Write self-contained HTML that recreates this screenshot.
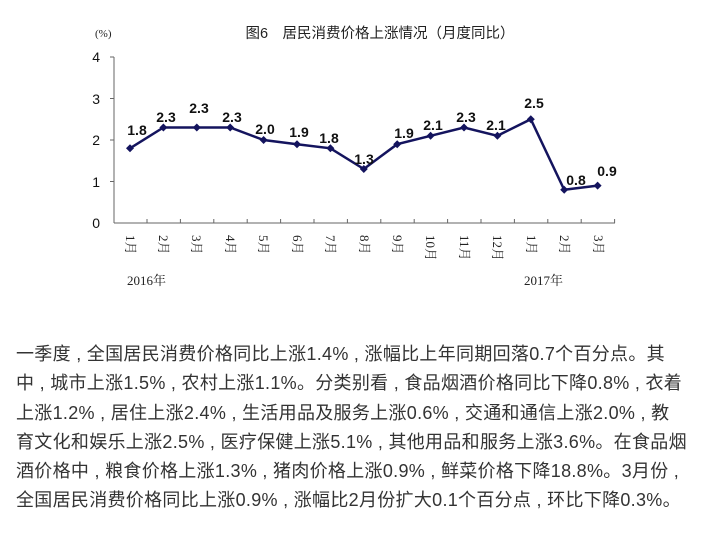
<!DOCTYPE html>
<html><head><meta charset="utf-8"><style>
body{margin:0;width:704px;height:539px;background:#fff;overflow:hidden}
.t{position:absolute;left:16px;top:340px;font-family:"Liberation Sans","Noto Sans CJK SC",sans-serif;font-size:18px;line-height:29.3px;color:#333;white-space:nowrap;letter-spacing:0.3px}
</style></head><body>
<svg width="704" height="330" style="position:absolute;left:0;top:0" font-family="Liberation Sans, Noto Sans CJK SC, sans-serif">
<text x="380" y="38" font-size="14.5" text-anchor="middle" fill="#222">图6　居民消费价格上涨情况（月度同比）</text>
<text x="95" y="37" font-size="11" fill="#222" font-family="Liberation Serif, Noto Serif CJK SC, serif">(%)</text>
<g font-size="14" fill="#111" text-anchor="end">
<text x="100" y="62">4</text><text x="100" y="104">3</text><text x="100" y="145">2</text><text x="100" y="187">1</text><text x="100" y="228">0</text>
</g>
<g stroke="#666" stroke-width="1" fill="none">
<line x1="114" y1="57" x2="114" y2="223"/>
<line x1="114" y1="223" x2="615" y2="223"/>
<line x1="110" y1="57" x2="114" y2="57"/><line x1="110" y1="98.5" x2="114" y2="98.5"/><line x1="110" y1="140" x2="114" y2="140"/><line x1="110" y1="181.5" x2="114" y2="181.5"/>
<path d="M147 223v-4M180.4 223v-4M213.8 223v-4M247.2 223v-4M280.6 223v-4M314 223v-4M347.4 223v-4M380.8 223v-4M414.2 223v-4M447.6 223v-4M481 223v-4M514.4 223v-4M547.8 223v-4M581.2 223v-4M614.6 223v-4"/>
</g>
<polyline fill="none" stroke="#14145e" stroke-width="2.5" points="130,148.3 163.4,127.5 196.8,127.5 230.2,127.5 263.6,140 297,144.2 330.4,148.3 363.8,169 397.2,144.2 430.6,135.8 464,127.5 497.4,135.8 530.8,119.2 564.2,189.8 597.6,185.6"/>
<g fill="#14145e">
<path d="M130 144.3l4 4-4 4-4-4zM163.4 123.5l4 4-4 4-4-4zM196.8 123.5l4 4-4 4-4-4zM230.2 123.5l4 4-4 4-4-4zM263.6 136l4 4-4 4-4-4zM297 140.2l4 4-4 4-4-4zM330.4 144.3l4 4-4 4-4-4zM363.8 165l4 4-4 4-4-4zM397.2 140.2l4 4-4 4-4-4zM430.6 131.8l4 4-4 4-4-4zM464 123.5l4 4-4 4-4-4zM497.4 131.8l4 4-4 4-4-4zM530.8 115.2l4 4-4 4-4-4zM564.2 185.8l4 4-4 4-4-4zM597.6 181.6l4 4-4 4-4-4z"/>
</g>
<g font-size="14" font-weight="bold" fill="#111" text-anchor="middle">
<text x="137" y="135">1.8</text><text x="166" y="122">2.3</text><text x="199" y="113">2.3</text><text x="232" y="122">2.3</text><text x="265" y="134">2.0</text><text x="299" y="137">1.9</text><text x="329" y="143">1.8</text><text x="364" y="164">1.3</text><text x="404" y="138">1.9</text><text x="433" y="130">2.1</text><text x="466" y="122">2.3</text><text x="496" y="130">2.1</text><text x="534" y="108">2.5</text><text x="576" y="185">0.8</text><text x="607" y="176">0.9</text>
</g>
<g font-size="13" fill="#222" font-family="Liberation Serif, Noto Serif CJK SC, serif">
<g transform="translate(126,235) rotate(90)"><text>1月</text></g>
<g transform="translate(159,235) rotate(90)"><text>2月</text></g>
<g transform="translate(192,235) rotate(90)"><text>3月</text></g>
<g transform="translate(226,235) rotate(90)"><text>4月</text></g>
<g transform="translate(259,235) rotate(90)"><text>5月</text></g>
<g transform="translate(293,235) rotate(90)"><text>6月</text></g>
<g transform="translate(326,235) rotate(90)"><text>7月</text></g>
<g transform="translate(360,235) rotate(90)"><text>8月</text></g>
<g transform="translate(393,235) rotate(90)"><text>9月</text></g>
<g transform="translate(426,235) rotate(90)"><text>10月</text></g>
<g transform="translate(460,235) rotate(90)"><text>11月</text></g>
<g transform="translate(493,235) rotate(90)"><text>12月</text></g>
<g transform="translate(527,235) rotate(90)"><text>1月</text></g>
<g transform="translate(560,235) rotate(90)"><text>2月</text></g>
<g transform="translate(594,235) rotate(90)"><text>3月</text></g>
<text x="127" y="285" font-size="13">2016年</text>
<text x="524" y="285" font-size="13">2017年</text>
</g>
</svg>
<div class="t">一季度 , 全国居民消费价格同比上涨1.4% , 涨幅比上年同期回落0.7个百分点。其<br>中 , 城市上涨1.5% , 农村上涨1.1%。分类别看 , 食品烟酒价格同比下降0.8% , 衣着<br>上涨1.2% , 居住上涨2.4% , 生活用品及服务上涨0.6% , 交通和通信上涨2.0% , 教<br>育文化和娱乐上涨2.5% , 医疗保健上涨5.1% , 其他用品和服务上涨3.6%。在食品烟<br>酒价格中 , 粮食价格上涨1.3% , 猪肉价格上涨0.9% , 鲜菜价格下降18.8%。3月份 ,<br>全国居民消费价格同比上涨0.9% , 涨幅比2月份扩大0.1个百分点 , 环比下降0.3%。</div>
</body></html>
